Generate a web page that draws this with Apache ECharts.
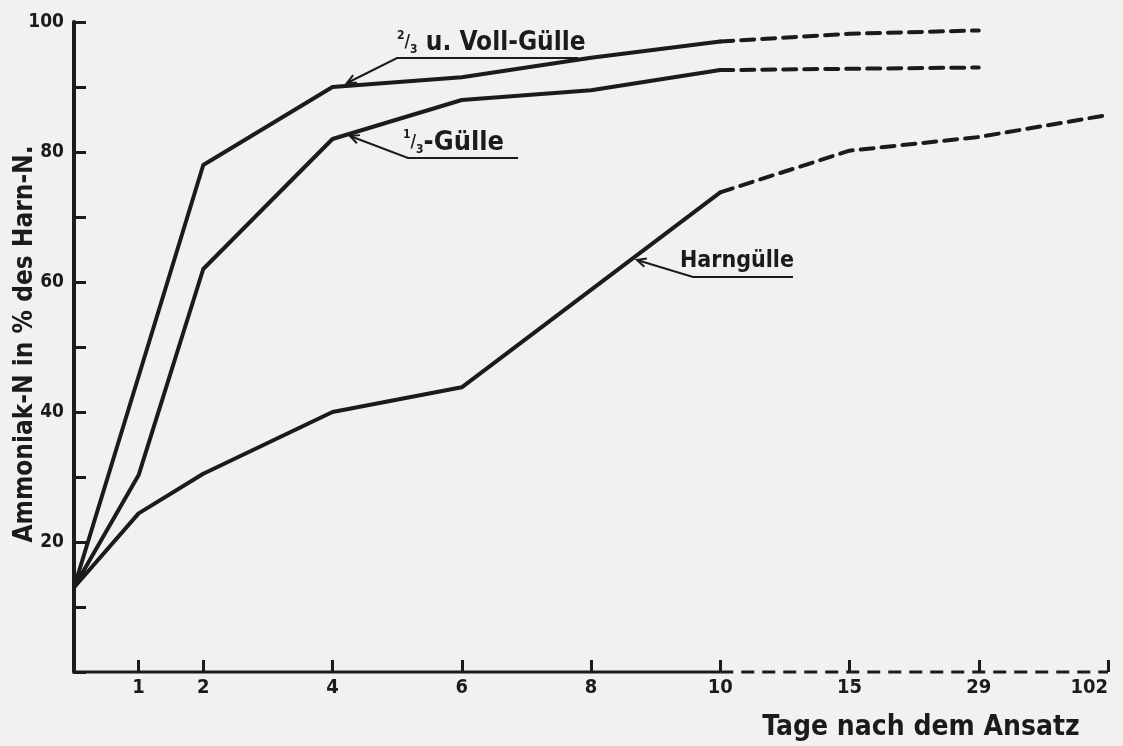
<!DOCTYPE html>
<html>
<head>
<meta charset="utf-8">
<script src="https://cdn.jsdelivr.net/npm/echarts@6/dist/echarts.min.js"></script>
<style>
  html, body { margin: 0; padding: 0; background: #f1f1ef; }
  #chart { width: 1123px; height: 746px; }
</style>
</head>
<body>
<div id="chart"></div>
<script>
// Achse: Tage 0..10 linear, dann 15, 29, 102 in gleichen Schritten
const xTickPos = [1, 2, 4, 6, 8, 10, 12, 14, 16]
const xTickLabels = ['1', '2', '4', '6', '8', '10', '15', '29', '102']
const yLabelValues = [20, 40, 60, 80, 100]

// 2/3 u. Voll-Gülle
const vollDays = [0, 2, 4, 6, 8, 10]
const vollValues = [13, 78, 90, 91.5, 94.5, 97]
const vollDashDays = [10, 15, 29]
const vollDashValues = [97, 98.2, 98.7]

// 1/3-Gülle
const drittelDays = [0, 1, 2, 4, 6, 8, 10]
const drittelValues = [13, 30.3, 62, 82, 88, 89.5, 92.6]
const drittelDashDays = [10, 15, 29]
const drittelDashValues = [92.6, 92.8, 93]

// Harngülle
const harnDays = [0, 1, 2, 4, 6, 8, 10]
const harnValues = [13, 24.4, 30.5, 40, 43.8, 58.8, 73.8]
const harnDashDays = [10, 15, 29, 102]
const harnDashValues = [73.8, 80.2, 82.3, 85.7]

const INK = '#1b1b1b'
const FONT = '"DejaVu Sans Condensed"'

// Tag -> Position auf der Achse
function dayPos (d) {
  if (d <= 10) return d
  return xTickPos[xTickLabels.indexOf(String(d))]
}
function pairs (days, values) {
  return days.map((d, i) => [dayPos(d), values[i]])
}

function curve (name, data, dashed, width) {
  return {
    name: name,
    type: 'line',
    data: data,
    symbol: 'none',
    clip: false,
    silent: true,
    lineStyle: {
      color: INK,
      width: width || 4,
      type: dashed ? [13, 8] : 'solid',
      cap: width ? 'butt' : 'round',
      join: 'round'
    }
  }
}

// Pfeilspitze an (tx, ty), Leitlinie kommt von (fx, fy)
function arrowHead (tx, ty, fx, fy) {
  const a = Math.atan2(fy - ty, fx - tx)
  const L = 10, s = 0.45
  return [
    [tx + L * Math.cos(a + s), ty + L * Math.sin(a + s)],
    [tx, ty],
    [tx + L * Math.cos(a - s), ty + L * Math.sin(a - s)]
  ]
}

const fracRich = {
  n: { font: 'bold 12px ' + FONT, fill: INK, verticalAlign: 'top' },
  sl: { font: 'bold 17px ' + FONT, fill: INK, verticalAlign: 'middle' },
  d: { font: 'bold 12px ' + FONT, fill: INK, verticalAlign: 'bottom' }
}

function annotation (text, size, tx, ty, ux1, ux2, uy, tipX, tipY) {
  return [
    {
      type: 'text',
      style: {
        text: text, x: tx, y: ty, fill: INK,
        font: 'bold ' + size + 'px ' + FONT,
        verticalAlign: 'bottom',
        rich: fracRich
      }
    },
    {
      type: 'polyline',
      shape: { points: [[ux2, uy], [ux1, uy], [tipX, tipY]] },
      style: { stroke: INK, lineWidth: 2, fill: null }
    },
    {
      type: 'polyline',
      shape: { points: arrowHead(tipX, tipY, ux1, uy) },
      style: { stroke: INK, lineWidth: 2, fill: null }
    }
  ]
}

let myChart = echarts.init(document.getElementById('chart'))
myChart.setOption({
  backgroundColor: '#f1f1ef',
  animation: false,
  grid: { left: 74, right: 15, top: 22, bottom: 74, outerBoundsMode: 'none', containLabel: false },
  xAxis: {
    type: 'value',
    min: 0,
    max: 16,
    axisLine: { show: false },
    splitLine: { show: false },
    axisTick: {
      customValues: xTickPos,
      inside: true,
      length: 12,
      lineStyle: { color: INK, width: 3 }
    },
    axisLabel: {
      customValues: xTickPos,
      formatter: v => xTickLabels[xTickPos.indexOf(v)],
      alignMaxLabel: 'right',
      color: INK,
      fontFamily: FONT,
      fontWeight: 'bold',
      fontSize: 20,
      margin: 6
    }
  },
  yAxis: {
    type: 'value',
    min: 0,
    max: 100,
    interval: 10,
    splitLine: { show: false },
    axisLine: { show: true, lineStyle: { color: INK, width: 4 } },
    axisTick: { inside: true, length: 12, lineStyle: { color: INK, width: 3 } },
    axisLabel: {
      formatter: v => yLabelValues.indexOf(v) >= 0 ? String(v) : '',
      color: INK,
      fontFamily: FONT,
      fontWeight: 'bold',
      fontSize: 19,
      margin: 10
    }
  },
  series: [
    // Abszisse: bis 10 durchgezogen, danach gestrichelt
    curve('Achse', [[0, 0], [10, 0]], false, 3),
    curve('Achse', [[10, 0], [16, 0]], true, 3),
    curve('2/3 u. Voll-Gülle', pairs(vollDays, vollValues), false),
    curve('2/3 u. Voll-Gülle', pairs(vollDashDays, vollDashValues), true),
    curve('1/3-Gülle', pairs(drittelDays, drittelValues), false),
    curve('1/3-Gülle', pairs(drittelDashDays, drittelDashValues), true),
    curve('Harngülle', pairs(harnDays, harnValues), false),
    curve('Harngülle', pairs(harnDashDays, harnDashValues), true)
  ],
  graphic: [
    ...annotation('{n|2}{sl|/}{d|3} u. Voll-Gülle', 26, 397, 56, 397, 578, 58, 347, 83),
    ...annotation('{n|1}{sl|/}{d|3}-Gülle', 27, 403, 156, 408, 518, 158, 350, 136),
    ...annotation('Harngülle', 23, 680, 273, 693, 793, 277, 637, 260),
    {
      type: 'text',
      rotation: Math.PI / 2,
      x: 25,
      y: 344,
      style: {
        text: 'Ammoniak-N in % des Harn-N.',
        fill: INK,
        font: 'bold 26px ' + FONT,
        align: 'center',
        verticalAlign: 'middle'
      }
    },
    {
      type: 'text',
      style: {
        text: 'Tage nach dem Ansatz',
        x: 921,
        y: 728,
        fill: INK,
        font: 'bold 28px ' + FONT,
        align: 'center',
        verticalAlign: 'middle'
      }
    }
  ]
})
</script>
</body>
</html>
